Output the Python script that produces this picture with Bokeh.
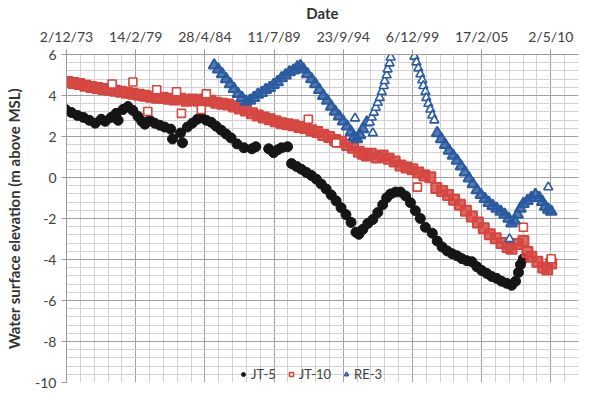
import numpy as np
import pandas as pd
from bokeh.plotting import figure
from bokeh.models import Range1d, FixedTicker, Legend, LegendItem
from bokeh.embed import file_html
from bokeh.resources import INLINE

# ---------------- data ----------------
tick_labels = ["2/12/73", "14/2/79", "28/4/84", "11/7/89", "23/9/94", "6/12/99", "17/2/05", "2/5/10"]

# JT-5 (decimal year, water level m above MSL)
jt5_year = [1973.85, 1974.29, 1974.74, 1975.19, 1975.63, 1976.08, 1976.53, 1976.83, 1977.27, 1977.65,
            1977.80, 1978.17, 1978.54, 1978.91, 1979.29, 1979.58, 1979.81, 1980.18, 1980.55, 1980.93,
            1981.30, 1981.75, 1981.89, 1982.49, 1982.64, 1983.01, 1983.38, 1983.76, 1984.05, 1984.43,
            1984.80, 1985.17, 1985.55, 1985.92, 1986.29, 1986.74, 1987.26, 1987.86, 1988.15, 1989.12,
            1989.49, 1989.79, 1990.09, 1990.54, 1990.84, 1991.21, 1991.58, 1991.95, 1992.33, 1992.70,
            1993.07, 1993.44, 1993.82, 1994.19, 1994.56, 1994.93, 1995.31, 1995.68, 1995.90, 1996.20,
            1996.57, 1996.95, 1997.32, 1997.69, 1997.99, 1998.29, 1998.66, 1999.03, 1999.41, 1999.78,
            2000.15, 2000.52, 2000.90, 2001.42, 2001.79, 2002.16, 2002.54, 2002.91, 2003.28, 2003.65,
            2004.03, 2004.40, 2004.77, 2005.14, 2005.52, 2005.89, 2006.26, 2006.63, 2007.01, 2007.38,
            2007.68, 2007.90, 2008.05, 2008.27]
jt5_level = [3.32, 3.17, 3.03, 2.93, 2.79, 2.65, 2.84, 2.74, 2.93, 3.13,
             2.79, 3.32, 3.46, 3.27, 2.98, 2.74, 2.60, 2.79, 2.65, 2.55,
             2.46, 2.36, 1.88, 2.17, 1.69, 2.46, 2.65, 2.84, 2.93, 2.79,
             2.69, 2.50, 2.31, 2.12, 1.93, 1.64, 1.45, 1.40, 1.50, 1.40,
             1.21, 1.35, 1.45, 1.50, 0.68, 0.54, 0.40, 0.25, 0.10, -0.08,
             -0.32, -0.56, -0.85, -1.14, -1.47, -1.81, -2.19, -2.67, -2.77, -2.53,
             -2.24, -2.05, -1.71, -1.33, -0.99, -0.80, -0.71, -0.71, -0.90, -1.23,
             -1.62, -2.00, -2.43, -2.72, -3.10, -3.39, -3.58, -3.72, -3.82, -3.96,
             -4.06, -4.11, -4.35, -4.54, -4.68, -4.83, -4.92, -5.06, -5.16, -5.26,
             -5.06, -4.63, -4.25, -3.96]

# JT-10 main band
jt10_year = [1973.55, 1973.99, 1974.44, 1974.89, 1975.34, 1975.78, 1976.23, 1976.68, 1977.12, 1977.57,
             1978.02, 1978.47, 1978.91, 1979.36, 1979.81, 1980.25, 1980.70, 1981.15, 1981.60, 1982.04,
             1982.49, 1982.94, 1983.38, 1983.83, 1984.28, 1984.73, 1985.17, 1985.62, 1986.07, 1986.51,
             1986.96, 1987.41, 1987.86, 1988.30, 1988.75, 1989.20, 1989.64, 1990.09, 1990.54, 1990.99,
             1991.43, 1991.88, 1992.33, 1992.77, 1993.22, 1993.67, 1994.11, 1994.56, 1995.01, 1995.46,
             1995.90, 1996.20, 1996.50, 1996.80, 1997.24, 1997.69, 1998.14, 1998.59, 1999.03, 1999.48,
             1999.93, 2000.37, 2000.82, 2001.27, 2001.72, 2002.16, 2002.61, 2003.06, 2003.50, 2003.95,
             2004.40, 2004.85, 2005.29, 2005.74, 2006.19, 2006.63, 2007.08, 2007.38, 2007.83, 2008.27,
             2008.57, 2008.87, 2009.32, 2009.76, 2010.06, 2010.36]
jt10_level = [4.71, 4.66, 4.61, 4.56, 4.47, 4.42, 4.37, 4.32, 4.28, 4.23,
              4.18, 4.13, 4.08, 4.04, 3.99, 3.94, 3.89, 3.89, 3.84, 3.80,
              3.84, 3.75, 3.80, 3.75, 3.80, 3.75, 3.65, 3.60, 3.56, 3.46,
              3.37, 3.27, 3.13, 3.03, 2.93, 2.84, 2.74, 2.65, 2.60, 2.55,
              2.46, 2.41, 2.31, 2.22, 2.07, 1.98, 1.83, 1.74, 1.59, 1.45,
              1.26, 1.16, 1.07, 1.16, 0.97, 1.07, 0.92, 0.78, 0.59, 0.49,
              0.40, 0.25, 0.10, 0.01, -0.51, -0.66, -0.85, -1.09, -1.33, -1.62,
              -1.90, -2.19, -2.48, -2.77, -2.96, -3.20, -3.39, -3.48, -3.24, -3.10,
              -3.63, -3.87, -4.11, -4.39, -4.49, -4.20]
# JT-10 scattered readings
jt10_out_year = [1977.35, 1978.91, 1980.70, 1982.19, 1984.43, 1980.03, 1982.56, 1984.05,
                 1992.10, 1994.19, 2000.30, 2008.27, 2010.36]
jt10_out_level = [4.56, 4.66, 4.28, 4.18, 4.08, 3.22, 3.13, 3.32,
                  2.84, 1.69, -0.47, -2.43, -3.96]

# RE-3 dense readings
re3_year = [1985.02, 1985.32, 1985.62, 1985.92, 1986.22, 1986.51, 1986.81, 1987.11, 1987.41, 1987.71,
            1988.00, 1988.30, 1988.60, 1988.90, 1989.20, 1989.49, 1989.79, 1990.09, 1990.39, 1990.69,
            1990.99, 1991.28, 1991.51, 1991.73, 1992.03, 1992.33, 1992.62, 1992.92, 1993.22, 1993.52,
            1993.82, 1994.11, 1994.41, 1994.71, 1995.01, 1995.31, 1995.53, 1995.75, 1995.98, 1996.20,
            1996.50,
            2001.79, 2002.09, 2002.39, 2002.68, 2002.98, 2003.28, 2003.58, 2003.88, 2004.18, 2004.47,
            2004.77, 2005.07, 2005.37, 2005.67, 2005.96, 2006.26, 2006.56, 2006.86, 2007.16, 2007.38,
            2007.60, 2007.83, 2008.05, 2008.27, 2008.57, 2008.87, 2009.17, 2009.47, 2009.69, 2009.91,
            2010.14, 2010.36]
re3_level = [5.47, 5.28, 5.04, 4.80, 4.56, 4.32, 4.08, 3.89, 3.70, 3.75,
             3.89, 4.04, 4.13, 4.28, 4.37, 4.52, 4.66, 4.85, 4.99, 5.14,
             5.23, 5.38, 5.43, 5.28, 5.04, 4.80, 4.56, 4.28, 3.99, 3.75,
             3.46, 3.22, 2.98, 2.74, 2.50, 2.22, 1.98, 1.88, 2.07, 2.36,
             2.69,
             2.17, 1.88, 1.59, 1.31, 1.07, 0.83, 0.54, 0.25, -0.04, -0.32,
             -0.61, -0.85, -1.04, -1.23, -1.38, -1.52, -1.66, -1.81, -2.00, -2.24,
             -2.10, -1.81, -1.52, -1.28, -1.14, -0.99, -0.85, -0.99, -1.19, -1.42,
             -1.57, -1.66]
# RE-3 sparse readings (steep rise/fall and isolated)
re3_sparse_year = [1996.72, 1996.87, 1997.02, 1997.17, 1997.32, 1997.47, 1997.62, 1997.77, 1997.84, 1997.99,
                   1998.06, 1998.21, 1998.29,
                   2000.08, 2000.23, 2000.37, 2000.52, 2000.67, 2000.75, 2000.90, 2000.97, 2001.12, 2001.27,
                   2001.42, 2001.57,
                   1995.61, 1996.95, 2007.23, 2010.14]
re3_sparse_level = [2.69, 2.93, 3.17, 3.41, 3.65, 3.89, 4.18, 4.47, 4.71, 4.99,
                    5.28, 5.57, 5.86,
                    5.90, 5.62, 5.33, 5.04, 4.75, 4.47, 4.18, 3.89, 3.60, 3.32,
                    3.03, 2.79,
                    2.89, 2.17, -3.00, -0.47]

# ---------------- helpers ----------------
ORIGIN = pd.Timestamp("1899-12-30")


def to_serial(years):
    out = []
    for y in years:
        yr = int(np.floor(y))
        start = pd.Timestamp(year=yr, month=1, day=1)
        ndays = (pd.Timestamp(year=yr + 1, month=1, day=1) - start).days
        out.append((start - ORIGIN).days + (y - yr) * ndays)
    return out


tick_pos = [int((pd.to_datetime(t, format="%d/%m/%y") - ORIGIN).days) for t in tick_labels]
major_step = tick_pos[1] - tick_pos[0]
minor_step = major_step / 5
x_start = tick_pos[0]
x_end = tick_pos[-1] + 2 * minor_step
x_minor = list(np.arange(x_start, x_end + 1, minor_step))

y_major = list(range(-10, 7, 2))
y_minor = [round(v, 2) for v in np.arange(-10, 6.01, 0.4)]

FONT = "Lato"
TXT = "#404040"
RED = "#d6453f"
BLUE = "#2a5aa0"
BLACK = "#151515"

p = figure(width=580, height=392, output_backend="svg", toolbar_location=None,
           x_range=Range1d(x_start, x_end), y_range=Range1d(-10, 6),
           x_axis_location="above", min_border_left=66, min_border_right=2,
           min_border_top=52, min_border_bottom=10)
p.outline_line_color = None
p.background_fill_color = "white"

# axes
xa = p.xaxis[0]
xa.ticker = FixedTicker(ticks=tick_pos, minor_ticks=x_minor)
xa.major_label_overrides = {tp: lab for tp, lab in zip(tick_pos, tick_labels)}
xa.axis_label = "Date"
ya = p.yaxis[0]
ya.ticker = FixedTicker(ticks=y_major, minor_ticks=y_minor)
ya.major_label_overrides = {v: str(v) for v in y_major}
ya.axis_label = "Water surface elevation (m above MSL)"
for ax in (xa, ya):
    ax.axis_line_color = "#9a9a9a"
    ax.major_tick_line_color = "#9a9a9a"
    ax.major_tick_out = 5
    ax.major_tick_in = 0
    ax.minor_tick_out = 0
    ax.minor_tick_in = 0
    ax.major_label_text_font = FONT
    ax.major_label_text_font_size = "14px"
    ax.major_label_text_color = TXT
    ax.major_label_standoff = 5
    ax.axis_label_text_font = FONT
    ax.axis_label_text_font_size = "15px"
    ax.axis_label_text_font_style = "bold"
    ax.axis_label_text_color = "#333333"
xa.axis_label_standoff = 3
ya.axis_label_standoff = 9

for g in (p.xgrid[0], p.ygrid[0]):
    g.grid_line_color = "#a0a0a0"
    g.grid_line_width = 1
    g.minor_grid_line_color = "#d2d2d2"
    g.minor_grid_line_width = 1

# data marks
r_jt5 = p.scatter(to_serial(jt5_year), jt5_level, marker="circle", size=10,
                  fill_color=BLACK, line_color=BLACK)
p.scatter(to_serial(jt10_year), jt10_level, marker="square", size=10,
          fill_color=RED, fill_alpha=0.8, line_color=RED, line_width=2)
r_jt10 = p.scatter(to_serial(jt10_out_year), jt10_out_level, marker="square", size=8,
                   fill_color="white", line_color=RED, line_width=1.6)
p.scatter(to_serial(re3_year), re3_level, marker="triangle", size=11,
          fill_color=BLUE, fill_alpha=0.8, line_color=BLUE, line_width=2)
r_re3 = p.scatter(to_serial(re3_sparse_year), re3_sparse_level, marker="triangle", size=9,
                  fill_color="white", line_color=BLUE, line_width=1.6)

legend = Legend(items=[LegendItem(label="JT-5", renderers=[r_jt5]),
                       LegendItem(label="JT-10", renderers=[r_jt10]),
                       LegendItem(label="RE-3", renderers=[r_re3])],
                orientation="horizontal", location=(172, 0),
                background_fill_alpha=0, border_line_alpha=0,
                label_text_font=FONT, label_text_font_size="13px", label_text_color=TXT,
                glyph_width=10, glyph_height=10, label_height=14, label_standoff=3,
                spacing=10, padding=0, margin=0)
p.add_layout(legend, "center")

open("out.html", "w").write(file_html(p, INLINE))
